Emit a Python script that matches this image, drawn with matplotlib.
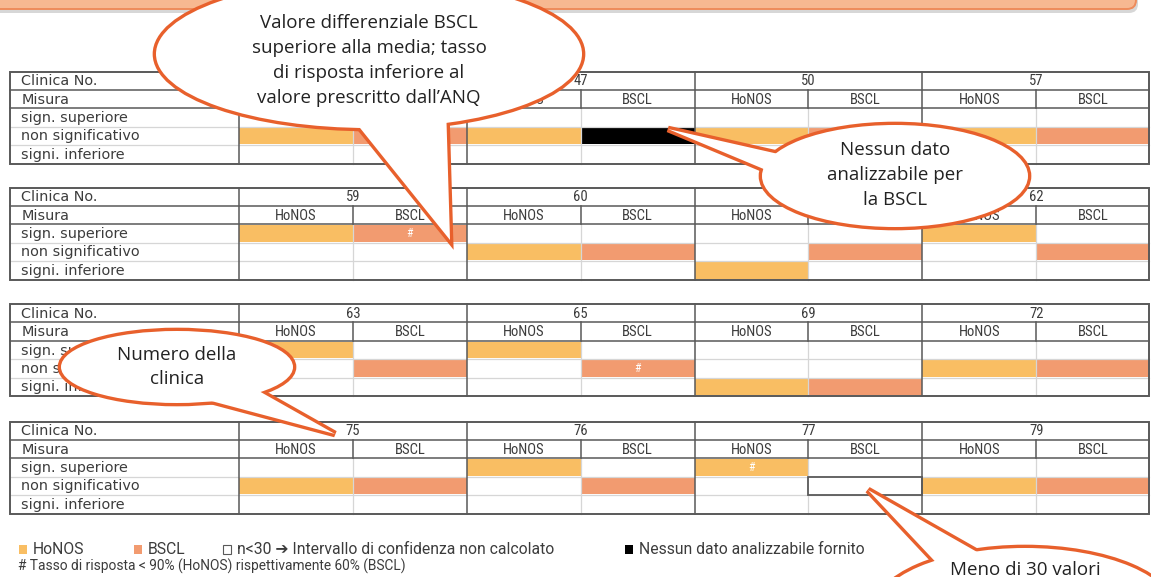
import matplotlib
matplotlib.use("Agg")
import matplotlib.pyplot as plt
from matplotlib.patches import Rectangle, Ellipse, Polygon, FancyBboxPatch
from matplotlib import font_manager as fm

_avail = {f.name for f in fm.fontManager.ttflist}


def pick(*names):
    for n in names:
        if n in _avail:
            return n
    return "DejaVu Sans"


NARROW = pick("Liberation Sans Narrow", "Roboto Condensed", "Roboto")
LEG = pick("Roboto", "Liberation Sans")
LABEL = pick("DejaVu Sans")
CALL = pick("Open Sans", "Lato")

# ---------------- data ----------------
row_labels = ["Clinica No.", "Misura", "sign. superiore", "non significativo", "signi. inferiore"]
measures = ["HoNOS", "BSCL"]
# first clinic number of the first block is hidden behind a callout in the reference
clinic_blocks = [
    ["", "47", "50", "57"],
    ["59", "60", "61", "62"],
    ["63", "65", "69", "72"],
    ["75", "76", "77", "79"],
]
# result level index: 0 = sign. superiore, 1 = non significativo, 2 = signi. inferiore
honos_result = [
    [1, 1, 1, 1],
    [0, 1, 2, 0],
    [0, 0, 2, 1],
    [1, 0, 0, 1],
]
bscl_result = [
    [1, 1, 1, 1],
    [0, 1, 1, 1],
    [1, 1, 2, 1],
    [1, 1, 1, 1],
]
honos_flag = [
    ["", "", "", ""],
    ["", "", "", ""],
    ["", "", "", ""],
    ["", "", "#", ""],
]
bscl_flag = [
    ["", "nodata", "", ""],
    ["#", "", "", ""],
    ["", "#", "", ""],
    ["", "", "n<30", ""],
]
legend_items = ["HoNOS", "BSCL", "n<30 \u2794 Intervallo di confidenza non calcolato",
                "Nessun dato analizzabile fornito"]
legend_note = "# Tasso di risposta < 90% (HoNOS) rispettivamente 60% (BSCL)"
callout_texts = [
    "Valore differenziale BSCL\nsuperiore alla media; tasso\ndi risposta inferiore al\nvalore prescritto dall\u2019ANQ",
    "Nessun dato\nanalizzabile per\nla BSCL",
    "Numero della\nclinica",
    "Meno di 30 valori",
]

# ---------------- style ----------------
C_HONOS = "#F9BE63"
C_BSCL = "#F29B70"
C_DARK = "#595959"
C_LIGHT = "#D6D6D6"
C_TEXT = "#3C3C3C"
C_CALL = "#E8602C"

W, H = 1151, 577
fig = plt.figure(figsize=(W / 100, H / 100), dpi=100)
ax = fig.add_axes([0, 0, 1, 1])
ax.set_xlim(0, W)
ax.set_ylim(H, 0)
ax.axis("off")

# banner at top
ax.add_patch(FancyBboxPatch((-18, -32), 1156, 45, boxstyle="round,pad=0,rounding_size=9",
                            fc="#BDBDBD", ec="none", alpha=0.6, zorder=1))
ax.add_patch(FancyBboxPatch((-20, -36), 1156, 45, boxstyle="round,pad=0,rounding_size=9",
                            fc="#F7B891", ec="#EE8B5B", lw=1.4, zorder=2))

X0 = 10.5
XL = 239
CW = 227.8
SW = CW / 2
XR = XL + 4 * CW - 1.5
RH = 18.4
block_tops = [71.5, 187.5, 304.0, 421.5]

for b, y0 in enumerate(block_tops):
    # row labels
    for r, lab in enumerate(row_labels):
        ax.text(X0 + 11, y0 + (r + 0.5) * RH + 0.5, lab, fontsize=10.4, family=LABEL,
                color=C_TEXT, ha="left", va="center", zorder=5)
    for j, cl in enumerate(clinic_blocks[b]):
        xs = XL + j * CW
        if cl:
            ax.text(xs + CW / 2, y0 + 0.5 * RH + 0.5, cl, fontsize=10.5, family=NARROW,
                    color=C_TEXT, ha="center", va="center", zorder=5)
            for m, meas in enumerate(measures):
                ax.text(xs + (m + 0.5) * SW, y0 + 1.5 * RH + 0.5, meas, fontsize=10.5,
                        family=NARROW, color=C_TEXT, ha="center", va="center", zorder=5)
        for m, (res, flag, col) in enumerate([
            (honos_result[b][j], honos_flag[b][j], C_HONOS),
            (bscl_result[b][j], bscl_flag[b][j], C_BSCL),
        ]):
            cx = xs + m * SW
            cy = y0 + (2 + res) * RH
            if flag == "nodata":
                ax.add_patch(Rectangle((cx, cy + 1), SW, RH - 2, fc="black", ec="none", zorder=3))
            elif flag == "n<30":
                ax.add_patch(Rectangle((cx, cy), SW, RH, fc="white", ec=C_DARK, lw=1.3, zorder=4.5))
            else:
                ax.add_patch(Rectangle((cx, cy + 1), SW, RH - 2, fc=col, ec="none", zorder=3))
                if flag == "#":
                    ax.text(cx + SW / 2, cy + RH / 2, "#", fontsize=8.5, color="white",
                            family=NARROW, ha="center", va="center", zorder=5)
    # light lines
    for r in (3, 4):
        ax.plot([X0, XR], [y0 + r * RH] * 2, color=C_LIGHT, lw=0.9, zorder=4)
    for j in range(4):
        xm = XL + j * CW + SW
        ax.plot([xm, xm], [y0 + 2 * RH, y0 + 5 * RH], color=C_LIGHT, lw=0.9, zorder=4)
        ax.plot([xm, xm], [y0 + RH, y0 + 2 * RH], color=C_DARK, lw=1.1, zorder=4.6)
    # dark lines
    for r in (1, 2):
        ax.plot([X0, XR], [y0 + r * RH] * 2, color=C_DARK, lw=1.1, zorder=4.6)
    for j in range(4):
        xv = XL + j * CW
        ax.plot([xv, xv], [y0, y0 + 5 * RH], color=C_DARK, lw=1.1, zorder=4.6)
    ax.add_patch(Rectangle((X0, y0), XR - X0, 5 * RH, fc="none", ec=C_DARK, lw=1.4, zorder=4.7))

# legend
LY1, LY2 = 549, 566
LFS1, LFS2 = 11.3, 9.9
ax.add_patch(Rectangle((19, LY1 - 4.5), 8, 9, fc=C_HONOS, ec="none"))
ax.text(33, LY1, legend_items[0], fontsize=LFS1, family=LEG, color=C_TEXT, va="center")
ax.add_patch(Rectangle((134, LY1 - 4.5), 8, 9, fc=C_BSCL, ec="none"))
ax.text(148, LY1, legend_items[1], fontsize=LFS1, family=LEG, color=C_TEXT, va="center")
ax.add_patch(Rectangle((223, LY1 - 4.5), 8, 9, fc="white", ec=C_DARK, lw=0.8))
ax.text(237, LY1, legend_items[2], fontsize=LFS1, family=[LEG, "DejaVu Sans"], color=C_TEXT,
        va="center")
ax.add_patch(Rectangle((625, LY1 - 4.5), 8, 9, fc="black", ec="none"))
ax.text(639, LY1, legend_items[3], fontsize=LFS1, family=LEG, color=C_TEXT, va="center")
ax.text(18, LY2 + 0.5, legend_note, fontsize=LFS2, family=LEG, color=C_TEXT, va="center")


# callouts
def callout(center, a, b, tail, text, text_y, fs=13.5, lw=4.8, ls=1.5):
    e_edge = Ellipse(center, 2 * a, 2 * b, fc="white", ec=C_CALL, lw=lw, zorder=10)
    t_edge = Polygon(tail, closed=True, fc="white", ec=C_CALL, lw=lw, joinstyle="miter", zorder=10)
    e_fill = Ellipse(center, 2 * a, 2 * b, fc="white", ec="none", zorder=11)
    t_fill = Polygon(tail, closed=True, fc="white", ec="none", zorder=11)
    for p in (e_edge, t_edge, e_fill, t_fill):
        ax.add_patch(p)
    ax.text(center[0], text_y, text, fontsize=fs, family=CALL, color="#222222",
            ha="center", va="center", linespacing=ls, zorder=12)


callout((369, 54), 213, 74, [(344, 108), (450, 240), (446, 105)], callout_texts[0], 60.5)
callout((895, 176), 133, 51, [(668, 129), (805, 160), (790, 180)], callout_texts[1], 175)
callout((177, 367), 116, 36, [(200, 398), (335, 434), (250, 386)], callout_texts[2], 367)
callout((1025, 612), 150, 64, [(868, 490), (1000, 565), (945, 572)], callout_texts[3], 570)

fig.savefig("out.png", dpi=100)
